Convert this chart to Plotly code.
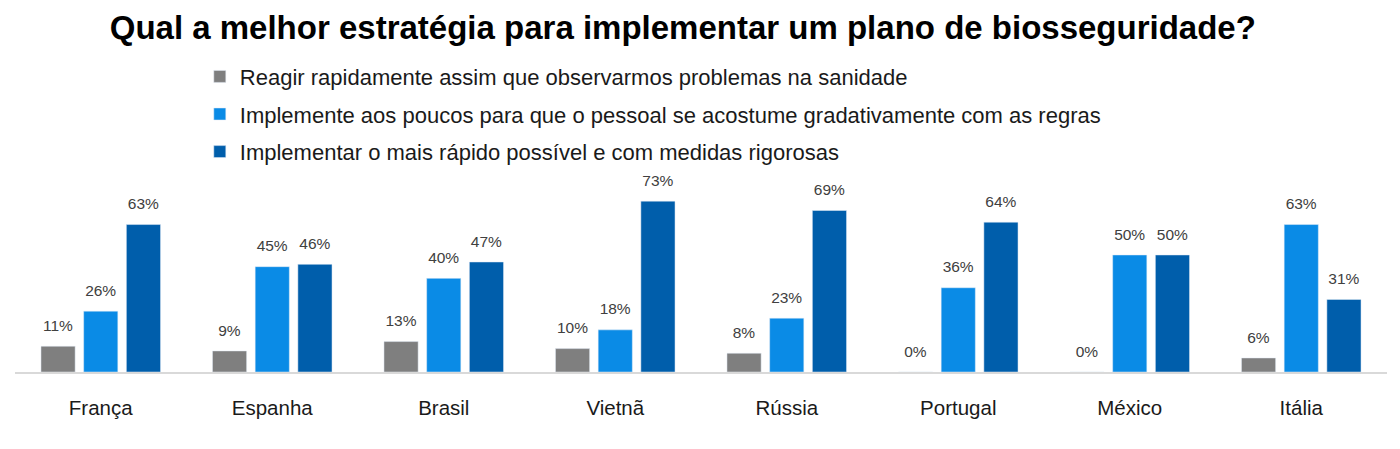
import plotly.graph_objects as go

categories = ["França", "Espanha", "Brasil", "Vietnã", "Rússia", "Portugal", "México", "Itália"]
series_names = [
    "Reagir rapidamente assim que observarmos problemas na sanidade",
    "Implemente aos poucos para que o pessoal se acostume gradativamente com as regras",
    "Implementar o mais rápido possível e com medidas rigorosas",
]
reagir = [11, 9, 13, 10, 8, 0, 0, 6]
aos_poucos = [26, 45, 40, 18, 23, 36, 50, 63]
rapido = [63, 46, 47, 73, 69, 64, 50, 31]
colors = ["#7f7f7f", "#0a8be6", "#005eab"]

fig = go.Figure()
for i, (name, vals, col) in enumerate(zip(series_names, [reagir, aos_poucos, rapido], colors)):
    fig.add_trace(go.Bar(
        x=categories, y=vals, name=name, marker_color=col,
        text=[f"<span style='font-size:15.5px'>{v}%</span><br>&nbsp;" for v in vals],
        textposition="outside",
        textfont=dict(family="Liberation Sans, Arial", size=8, color="#404040"),
        constraintext="none", hoverinfo="x+y+name",
        cliponaxis=False, legendgroup=f"g{i}",
    ))

# page body has an 8px margin, so offsets compensate for it
fig.update_layout(
    width=1400, height=449,
    margin=dict(l=7, r=21, t=162, b=85, autoexpand=False),
    paper_bgcolor="white", plot_bgcolor="white",
    barmode="group", bargap=0.253, bargroupgap=0.2,
    title=dict(
        text="<b>Qual a melhor estratégia para implementar um plano de biosseguridade?</b>",
        x=0.482, xanchor="center", y=0.957, yanchor="middle",
        font=dict(family="Liberation Sans, Arial", size=33, color="black"),
    ),
    legend=dict(
        orientation="v", xref="container", yref="container",
        x=0.137, xanchor="left", y=0.894, yanchor="top",
        font=dict(family="Liberation Sans, Arial", size=22, color="#1a1a1a"),
        tracegroupgap=6, bgcolor="rgba(0,0,0,0)",
    ),
    font=dict(family="Liberation Sans, Arial"),
)
fig.update_xaxes(
    showline=True, linecolor="#d9d9d9", linewidth=2, showgrid=False,
    ticks="", ticklabelstandoff=16, tickangle=0,
    tickfont=dict(family="Liberation Sans, Arial", size=20.5, color="#1a1a1a"),
)
fig.update_yaxes(range=[0, 86.3], visible=False, showgrid=False, zeroline=False)

fig.write_html("out.html")
